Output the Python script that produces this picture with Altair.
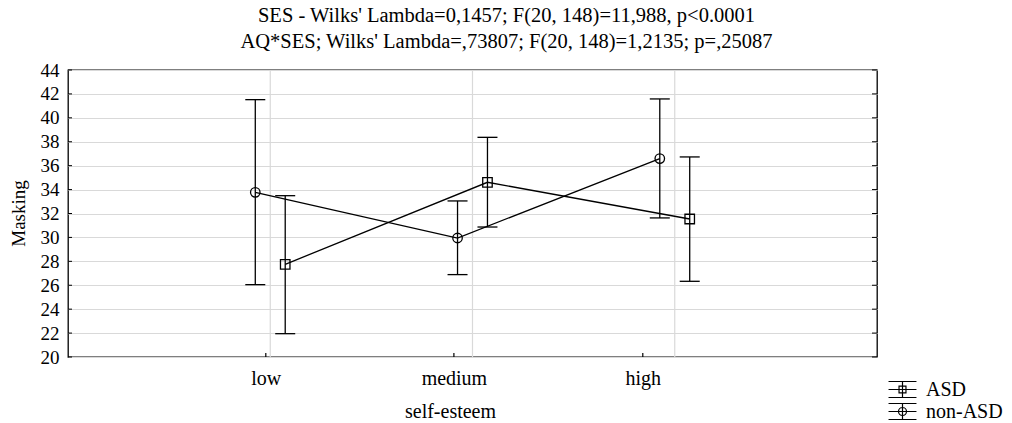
import altair as alt
import pandas as pd

# ---- data ----
levels = ["low", "medium", "high"]
level_pos = [1, 2, 3]
label_pos = [0.978, 1.908, 2.842]
groups = ["ASD", "non-ASD"]
group_offset = [0.074, -0.074]

asd_mean = [27.75, 34.61, 31.54]
asd_lo = [21.95, 30.87, 26.33]
asd_hi = [33.49, 38.37, 36.73]

non_mean = [33.77, 29.95, 36.59]
non_lo = [26.05, 26.89, 31.63]
non_hi = [41.52, 33.05, 41.58]

y_ticks = list(range(20, 46, 2))

title_lines = [
    "SES - Wilks' Lambda=0,1457; F(20, 148)=11,988, p<0.0001",
    "AQ*SES; Wilks' Lambda=,73807; F(20, 148)=1,2135; p=,25087",
]

rows = []
for g, off, means, los, his in zip(groups, group_offset,
                                   [asd_mean, non_mean],
                                   [asd_lo, non_lo],
                                   [asd_hi, non_hi]):
    for lev, p, m, lo, hi in zip(levels, level_pos, means, los, his):
        rows.append(dict(group=g, level=lev, x=p + off, mean=m, lo=lo, hi=hi))
df = pd.DataFrame(rows)

FONT = "Liberation Serif"
W, H = 809, 287

xs = alt.Scale(domain=[0, 4], nice=False, zero=False)
ys = alt.Scale(domain=[20, 44], nice=False, zero=False)

# label expression built from tick positions
expr = f"'{levels[-1]}'"
for i in range(len(levels) - 2, -1, -1):
    mid = (label_pos[i] + label_pos[i + 1]) / 2
    expr = f"datum.value < {mid:.3f} ? '{levels[i]}' : ({expr})"

xaxis = alt.Axis(values=label_pos, labelExpr=expr, grid=False, ticks=False,
                 domain=False, title="self-esteem", labelFont=FONT,
                 labelFontSize=20, labelColor="black", labelPadding=11,
                 labelFlush=False, labelOverlap=False,
                 titleFont=FONT, titleFontSize=20, titleFontWeight="normal",
                 titleColor="black", titleX=382, titleY=54,
                 titleBaseline="middle", titleAlign="center")
yaxis = alt.Axis(values=y_ticks, grid=True, gridColor="#d9d9d9", gridWidth=1.2,
                 ticks=False, domain=False, title="Masking", labelFont=FONT,
                 labelFontSize=19, labelColor="black", labelPadding=9,
                 labelFlush=False, labelOverlap=False,
                 titleFont=FONT, titleFontSize=19, titleFontWeight="normal",
                 titleColor="black", titleAngle=270, titleX=-50, titleY=143,
                 titleBaseline="middle", titleAlign="center")

base = alt.Chart(df)

vgrid = alt.Chart(pd.DataFrame({"p": level_pos})).mark_rule(
    color="#d9d9d9", strokeWidth=1.2).encode(
    x=alt.X("p:Q", scale=xs, axis=xaxis))

lticks = alt.Chart(pd.DataFrame({"v": y_ticks})).mark_rule(
    color="black", strokeWidth=1).encode(
    y=alt.Y("v:Q", scale=ys, axis=yaxis), x=alt.value(0), x2=alt.value(4))
rticks = alt.Chart(pd.DataFrame({"v": y_ticks})).mark_rule(
    color="black", strokeWidth=1).encode(
    y=alt.Y("v:Q", scale=ys, axis=yaxis), x=alt.value(W - 5), x2=alt.value(W))
bticks = alt.Chart(pd.DataFrame({"p": label_pos})).mark_rule(
    color="black", strokeWidth=1.2).encode(
    x=alt.X("p:Q", scale=xs, axis=xaxis), y=alt.value(H - 4), y2=alt.value(H))

X = alt.X("x:Q", scale=xs, axis=xaxis)

err = base.mark_rule(color="black", strokeWidth=1.3).encode(
    x=X, y=alt.Y("lo:Q", scale=ys, axis=yaxis), y2="hi:Q")
cap_lo = base.mark_rule(color="black", strokeWidth=1.3, xOffset=-10,
                        x2Offset=10).encode(
    x=X, x2="x:Q", y=alt.Y("lo:Q", scale=ys, axis=yaxis))
cap_hi = base.mark_rule(color="black", strokeWidth=1.3, xOffset=-10,
                        x2Offset=10).encode(
    x=X, x2="x:Q", y=alt.Y("hi:Q", scale=ys, axis=yaxis))

lines = base.mark_line(color="black", strokeWidth=1.3).encode(
    x=X, y=alt.Y("mean:Q", scale=ys, axis=yaxis), detail="group:N",
    order="x:Q")

points = base.mark_point(filled=False, color="black", strokeWidth=1.3,
                         size=90, opacity=1).encode(
    x=X, y=alt.Y("mean:Q", scale=ys, axis=yaxis),
    shape=alt.Shape("group:N", scale=alt.Scale(domain=groups,
                                               range=["square", "circle"]),
                    legend=None))

asd_path = ("M-1.33,-0.76H1.33M-1.33,0.76H1.33M0,-0.76V0.76M-1.33,0H1.33"
            "M-0.33,-0.33H0.33V0.33H-0.33Z")
non_path = ("M-1.33,-0.76H1.33M-1.33,0.76H1.33M0,-0.76V0.76M-1.33,0H1.33"
            "M0.38,0A0.38,0.38 0 1,1 -0.38,0A0.38,0.38 0 1,1 0.38,0Z")

legend_layer = base.mark_point(filled=False, opacity=0, color="black").encode(
    x=X, y=alt.Y("mean:Q", scale=ys, axis=yaxis),
    shape=alt.Shape("group:N",
                    scale=alt.Scale(domain=groups, range=[asd_path, non_path]),
                    legend=alt.Legend(title=None, orient="none",
                                      legendX=823, legendY=308,
                                      padding=0, symbolSize=441,
                                      symbolOpacity=1,
                                      symbolStrokeColor="black",
                                      symbolFillColor="transparent",
                                      symbolStrokeWidth=1.2,
                                      labelFont=FONT, labelFontSize=20,
                                      labelColor="black", labelOffset=12,
                                      rowPadding=0)))

chart = alt.layer(
    vgrid, lticks, rticks, bticks, err, cap_lo, cap_hi, lines, points,
    legend_layer
).resolve_scale(shape="independent").properties(
    width=W, height=H,
    title=alt.Title(title_lines, font=FONT, fontSize=20.5, fontWeight="normal",
                    color="black", lineHeight=26, anchor="middle", dx=34,
                    offset=9),
    autosize=alt.AutoSizeParams(type="none"),
    padding={"left": 60, "top": 62, "right": 127, "bottom": 66},
).configure_view(stroke="black", strokeWidth=1.3)

chart.save("out.html", embed_options={"renderer": "svg", "actions": False})
